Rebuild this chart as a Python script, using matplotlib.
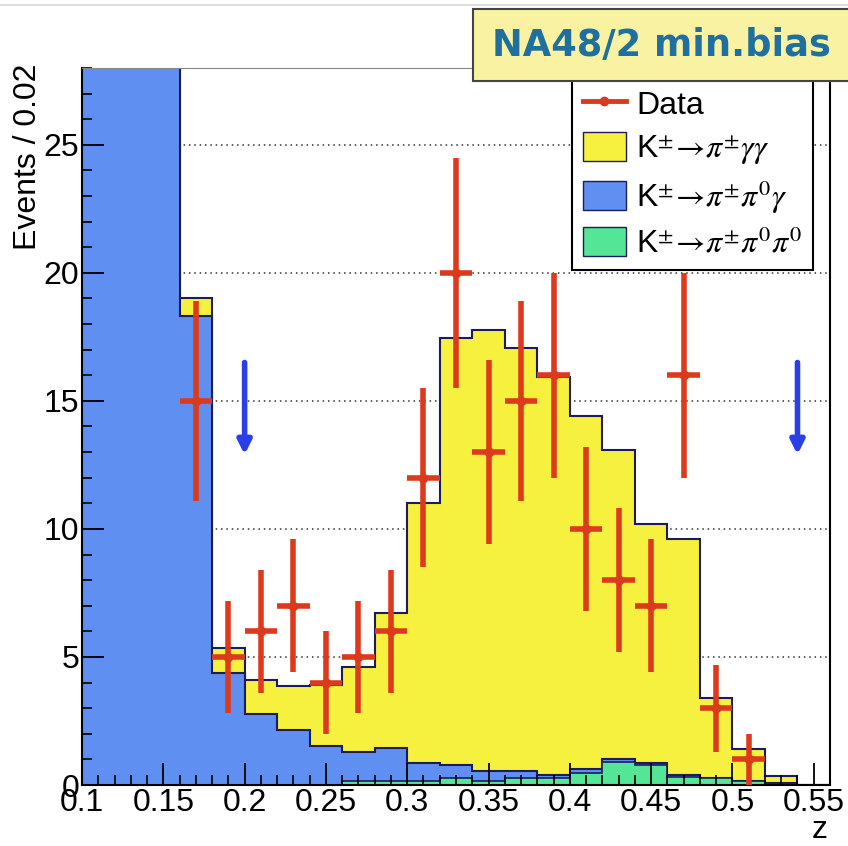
import numpy as np
import matplotlib
matplotlib.use('Agg')
import matplotlib.pyplot as plt
from matplotlib.lines import Line2D
from matplotlib.patches import Patch, Rectangle
from matplotlib.ticker import MultipleLocator

plt.rcParams['font.family'] = ['Liberation Sans', 'DejaVu Sans']
plt.rcParams['mathtext.fontset'] = 'stix'

# bin edges 0.10 .. 0.56, width 0.02
edges = np.round(np.arange(0.10, 0.5601, 0.02), 2)

# MC contributions per bin (stack: k3pi at bottom, then pi0gamma, then gammagamma)
k3pi = [0, 0, 0, 0, 0, 0, 0, 0, 0.15, 0.15, 0.15, 0.29, 0.15, 0.29, 0.29,
        0.46, 0.91, 0.78, 0.33, 0.29, 0.15, 0.04, 0]
pi0gamma = [60, 50, 40, 18.3, 4.36, 2.76, 2.16, 1.54, 1.14, 1.31, 0.70, 0.51,
            0.40, 0.26, 0.10, 0.15, 0.09, 0.09, 0.06, 0.0, 0.02, 0.02, 0]
gammagamma = [1, 1, 1, 0.7, 0.99, 1.34, 1.71, 2.36, 3.31, 5.24, 10.15, 16.65,
              17.22, 16.52, 15.56, 13.79, 12.10, 9.33, 9.21, 3.12, 1.23, 0.29, 0]

# data points
zData = [0.17, 0.19, 0.21, 0.23, 0.25, 0.27, 0.29, 0.31, 0.33, 0.35, 0.37,
         0.39, 0.41, 0.43, 0.45, 0.47, 0.49, 0.51]
nData = [15, 5, 6, 7, 4, 5, 6, 12, 20, 13, 15, 16, 10, 8, 7, 16, 3, 1]
errData = [3.9, 2.2, 2.4, 2.6, 2.0, 2.2, 2.4, 3.5, 4.5, 3.6, 3.9, 4.0, 3.2,
           2.8, 2.6, 4.0, 1.7, 1.0]

xTicks = [0.1, 0.15, 0.2, 0.25, 0.3, 0.35, 0.4, 0.45, 0.5, 0.55]
xTickLabels = ['0.1', '0.15', '0.2', '0.25', '0.3', '0.35', '0.4', '0.45', '0.5', '0.55']
cutLow, cutHigh = 0.2, 0.54

yellow = '#f6f03e'
blue = '#5f8ff0'
green = '#55e596'
edge = '#1c1c5c'
red = '#dc3a1c'

fig = plt.figure(figsize=(8.48, 8.46), dpi=100)
ax = fig.add_axes([82/848, 1-785/846, 748/848, 717/846])

s_green = np.array(k3pi)
s_blue = s_green + np.array(pi0gamma)
s_tot = s_blue + np.array(gammagamma)

ax.stairs(s_tot, edges, fill=True, facecolor=yellow, edgecolor=edge, lw=1.5, zorder=1)
ax.stairs(s_blue, edges, fill=True, facecolor=blue, edgecolor=edge, lw=1.5, zorder=1.1)
ax.stairs(s_green, edges, fill=True, facecolor=green, edgecolor=edge, lw=1.2, zorder=1.2)

ax.errorbar(zData, nData, yerr=errData, xerr=0.01, fmt='o', color=red, ms=6,
            elinewidth=4, capsize=0, zorder=3)

for xc in [cutLow, cutHigh]:
    ax.annotate('', xy=(xc, 12.9), xytext=(xc, 16.5),
                arrowprops=dict(arrowstyle='-|>', color='#2a40e6', lw=4,
                                mutation_scale=20, shrinkA=0, shrinkB=0), zorder=3)

ax.set_xlim(0.1, 0.56)
ax.set_ylim(0, 28)
ax.set_xticks(xTicks)
ax.set_xticklabels(xTickLabels)
ax.xaxis.set_minor_locator(MultipleLocator(0.01))
ax.yaxis.set_major_locator(MultipleLocator(5))
ax.yaxis.set_minor_locator(MultipleLocator(1))
ax.tick_params(axis='both', which='major', direction='in', length=16, width=1.3,
               labelsize=23, pad=2, top=False, right=False)
ax.tick_params(axis='both', which='minor', direction='in', length=7, width=1.2,
               top=False, right=False)

# dotted grid behind histograms
for yv in [5, 10, 15, 20, 25]:
    ax.axhline(yv, color='#333333', lw=1.1, ls=(0, (1, 2.5)), zorder=0.5)

for sp in ['left', 'bottom', 'right']:
    ax.spines[sp].set_linewidth(1.5)
ax.spines['top'].set_color('#888888')

fig.text(28/848, 1-64/846, 'Events / 0.02', rotation=90, ha='center', va='top', fontsize=23)
fig.text(820/848, 1-830/846, 'z', ha='center', va='center', fontsize=23)

handles = [Line2D([], [], color=red, lw=3.5, marker='o', ms=6),
           Patch(facecolor=yellow, edgecolor=edge),
           Patch(facecolor=blue, edgecolor=edge),
           Patch(facecolor=green, edgecolor=edge)]
labels = ['Data',
          r'K$^{\pm}\!\rightarrow\!\pi^{\pm}\gamma\gamma$',
          r'K$^{\pm}\!\rightarrow\!\pi^{\pm}\pi^{0}\gamma$',
          r'K$^{\pm}\!\rightarrow\!\pi^{\pm}\pi^{0}\pi^{0}$']
leg = ax.legend(handles, labels, loc='upper right',
                bbox_to_anchor=(813/848, 1-78/846), bbox_transform=fig.transFigure,
                fontsize=23, frameon=True, fancybox=False, edgecolor='black',
                framealpha=1, handlelength=1.35, handleheight=1.0,
                handletextpad=0.33, labelspacing=0.36, borderpad=0.33,
                borderaxespad=0)
leg.get_frame().set_linewidth(1.5)
leg.set_zorder(5)

# title box
fig.patches.append(Rectangle((473/848, 1-81/846), 0.5, 72/846, transform=fig.transFigure,
                             facecolor='#f8f2a2', edgecolor='#444444', lw=1.5, zorder=6))
fig.text(661/848, 1-45/846, 'NA48/2 min.bias', ha='center', va='center',
         fontsize=26.5, fontweight='bold', color='#1f6f9f', family='DejaVu Sans', zorder=7)

# faint slide border line
fig.add_artist(Line2D([0, 1], [1-5/846, 1-5/846], color='#dddddd', lw=1.5))

fig.savefig('out.png', dpi=100)
